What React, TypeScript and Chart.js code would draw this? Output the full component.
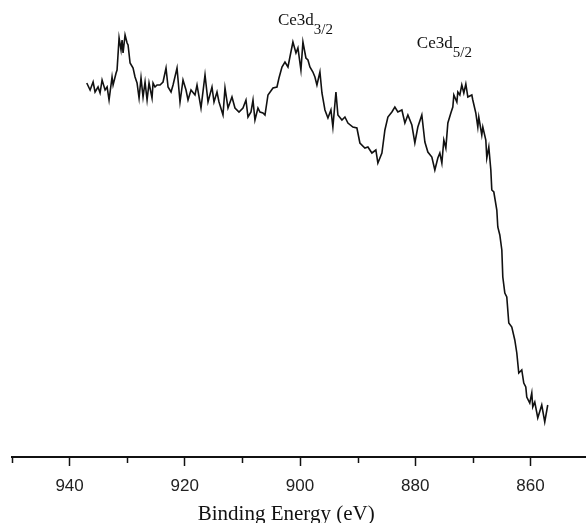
import React, { useEffect, useRef } from 'react';
import { Chart, registerables } from 'chart.js';

Chart.register(...registerables);

// Binding energy (eV) of each trace point
const energies = [
  937.02, 936.44, 935.92, 935.58, 935.06, 934.71, 934.36, 933.84, 933.49, 933.15,
  932.63, 932.45, 931.93, 931.76, 931.41, 931.07, 930.89, 930.72, 930.37, 930.02,
  929.85, 929.5, 928.98, 928.64, 928.29, 927.94, 927.6, 927.25, 926.9, 926.55,
  926.21, 925.69, 925.51, 925.17, 924.82, 924.3, 923.78, 923.26, 922.91, 922.39,
  922.04, 921.35, 920.83, 920.31, 919.79, 919.44, 918.92, 918.23, 917.88, 917.19,
  916.49, 915.97, 915.28, 914.93, 914.41, 914.06, 913.37, 913.02, 912.5, 911.81,
  911.29, 910.59, 909.9, 909.38, 909.03, 908.51, 908.16, 907.82, 907.3, 906.95,
  906.43, 906.08, 905.56, 904.69, 904.0, 903.65, 903.13, 902.61, 902.09, 901.75,
  901.23, 900.7, 900.36, 899.84, 899.49, 898.97, 898.62, 898.28, 897.76, 897.41,
  897.06, 896.54, 896.19, 895.67, 895.15, 894.63, 894.29, 893.76, 893.42, 892.72,
  892.2, 891.68, 890.82, 890.12, 889.6, 888.73, 888.21, 887.52, 886.83, 886.48,
  885.78, 885.26, 884.74, 884.05, 883.53, 883.01, 882.31, 881.79, 881.27, 880.58,
  880.06, 879.54, 878.85, 878.32, 877.8, 877.11, 876.59, 876.07, 875.72, 875.37,
  875.03, 874.68, 874.33, 873.81, 873.47, 873.29, 872.77, 872.6, 872.25, 871.91,
  871.56, 871.21, 870.86, 870.17, 870.0, 869.48, 869.13, 868.96, 868.44, 868.26,
  867.74, 867.57, 867.22, 866.87, 866.7, 866.35, 865.83, 865.66, 865.31, 864.96,
  864.79, 864.44, 864.1, 863.75, 863.23, 862.71, 862.36, 862.02, 861.5, 861.15,
  860.8, 860.63, 860.11, 859.76, 859.59, 859.24, 858.72, 858.03, 857.51, 856.99,
];

// Intensity (arbitrary units) of each trace point
const intensities = [
  377, 370, 378, 368, 373, 367, 380, 370, 373, 360,
  383, 375, 387, 390, 422, 410, 420, 407, 425, 417,
  415, 397, 392, 383, 377, 362, 382, 363, 378, 360,
  377, 362, 377, 373, 375, 375, 378, 392, 373, 368,
  375, 392, 358, 380, 370, 360, 370, 365, 375, 352,
  385, 358, 373, 358, 368, 358, 345, 372, 352, 363,
  352, 348, 352, 360, 343, 348, 360, 340, 352, 348,
  347, 345, 365, 372, 373, 382, 393, 398, 393, 403,
  418, 407, 412, 390, 418, 402, 400, 393, 388, 383,
  375, 388, 367, 350, 342, 350, 333, 368, 345, 340,
  343, 337, 333, 332, 317, 312, 313, 307, 310, 297,
  307, 330, 343, 348, 353, 348, 350, 337, 345, 335,
  317, 333, 345, 318, 308, 303, 290, 302, 307, 297,
  320, 312, 337, 347, 353, 365, 358, 368, 365, 375,
  367, 376, 363, 365, 360, 347, 333, 343, 325, 333,
  320, 302, 313, 290, 270, 268, 250, 233, 225, 210,
  183, 167, 163, 137, 133, 120, 107, 87, 90, 77,
  73, 63, 57, 67, 53, 58, 42, 55, 38, 55,
];

const axisMin = 850;
const axisMax = 950;
const minorStep = 10;
const majorStep = 20;
const intensityMin = 3;
const intensityMax = 460;

const xTitle = 'Binding Energy (eV)';
const xTitleEnergy = 902.4;

const peakLabels = [
  { main: 'Ce3d', sub: '3/2', energy: 903.83, intensity: 435 },
  { main: 'Ce3d', sub: '5/2', energy: 879.71, intensity: 412 },
];

const serif = '"Liberation Serif", "Times New Roman", serif';
const sans = '"Liberation Sans", Arial, sans-serif';

const extrasPlugin = {
  id: 'extras',
  afterDraw(chart: any) {
    const ctx = chart.ctx as CanvasRenderingContext2D;
    const xs = chart.scales.x;
    const ys = chart.scales.y;
    ctx.save();
    // minor ticks
    ctx.strokeStyle = '#111';
    ctx.lineWidth = 1.5;
    xs.ticks.forEach((t: any) => {
      if (Math.round(t.value) % majorStep !== 0) {
        const px = Math.round(xs.getPixelForValue(t.value)) + 0.5;
        ctx.beginPath();
        ctx.moveTo(px, xs.top);
        ctx.lineTo(px, xs.top + 6);
        ctx.stroke();
      }
    });
    // peak labels
    ctx.fillStyle = '#111';
    ctx.textBaseline = 'alphabetic';
    ctx.textAlign = 'left';
    peakLabels.forEach((p) => {
      const px = xs.getPixelForValue(p.energy);
      const py = ys.getPixelForValue(p.intensity);
      ctx.font = `17px ${serif}`;
      ctx.fillText(p.main, px, py);
      const w = ctx.measureText(p.main).width;
      ctx.font = `15px ${serif}`;
      ctx.fillText(p.sub, px + w, py + 9);
    });
    // axis title
    ctx.font = `21px ${serif}`;
    ctx.textAlign = 'center';
    ctx.fillText(xTitle, xs.getPixelForValue(xTitleEnergy), chart.height - 3);
    ctx.restore();
  },
};

export default function App() {
  const canvasRef = useRef<HTMLCanvasElement | null>(null);

  useEffect(() => {
    if (!canvasRef.current) return;
    const points = energies.map((e, i) => ({ x: e, y: intensities[i] }));
    const chart = new Chart(canvasRef.current, {
      type: 'line',
      data: {
        datasets: [
          {
            data: points,
            borderColor: '#111',
            borderWidth: 1.6,
            pointRadius: 0,
            tension: 0,
            fill: false,
          },
        ],
      },
      options: {
        responsive: false,
        maintainAspectRatio: false,
        animation: false,
        events: [],
        layout: { padding: { left: 12, right: 12, top: 0, bottom: 0 } },
        plugins: { legend: { display: false }, tooltip: { enabled: false }, title: { display: false } },
        scales: {
          x: {
            type: 'linear',
            reverse: true,
            min: axisMin,
            max: axisMax,
            afterFit: (scale: any) => {
              scale.height = 66;
            },
            border: { display: true, color: '#111', width: 2 },
            grid: {
              display: true,
              drawOnChartArea: false,
              drawTicks: true,
              tickLength: 9,
              tickWidth: 1.5,
              tickColor: (ctx: any) =>
                ctx.tick && Math.round(ctx.tick.value) % majorStep === 0 ? '#111' : 'rgba(0,0,0,0)',
            },
            ticks: {
              stepSize: minorStep,
              includeBounds: false,
              autoSkip: false,
              maxRotation: 0,
              padding: 10,
              color: '#222',
              font: { family: sans, size: 17 },
              callback: (v: any) => (Math.round(Number(v)) % majorStep === 0 ? String(v) : ''),
            },
          },
          y: {
            display: false,
            min: intensityMin,
            max: intensityMax,
          },
        },
      },
      plugins: [extrasPlugin],
    });
    return () => chart.destroy();
  }, []);

  return (
    <div
      style={{
        position: 'fixed',
        left: 0,
        top: 0,
        width: 586,
        height: 523,
        overflow: 'hidden',
        background: '#fff',
      }}
    >
      <canvas ref={canvasRef} width={600} height={523} style={{ display: 'block', width: 600, height: 523 }} />
    </div>
  );
}
